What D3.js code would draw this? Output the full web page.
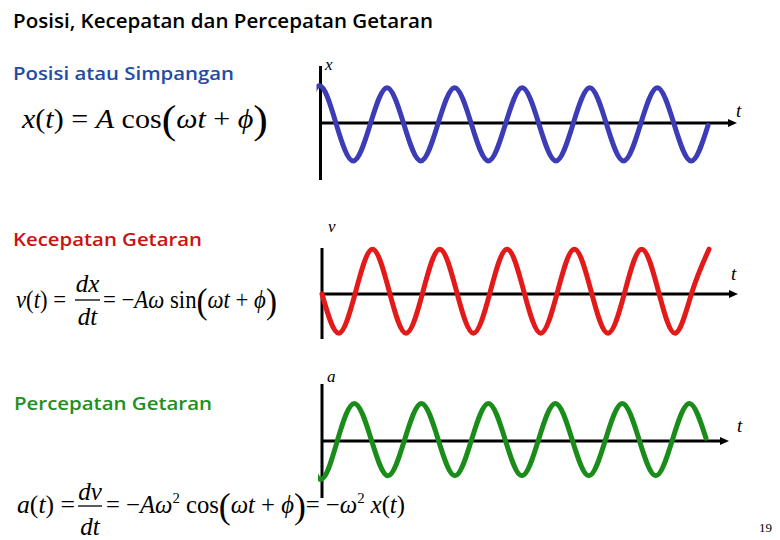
<!DOCTYPE html>
<html><head><meta charset="utf-8">
<script src="https://cdn.jsdelivr.net/npm/d3@7"></script>
<style>body{margin:0;background:#fff}svg{display:block}</style>
</head><body>
<svg id="c" width="780" height="540"></svg>
<script>
// ---------- data ----------
const titleText = "Posisi, Kecepatan dan Percepatan Getaran";
const panelLabels = ["Posisi atau Simpangan", "Kecepatan Getaran", "Percepatan Getaran"];
const axisLabels = ["x", "v", "a"];
const timeLabel = "t";
const pageNumber = "19";
// time in periods (knots at quarter periods; first knot lies left of the vertical axis)
const tKnots = [-0.25, 0, 0.25, 0.5, 0.75, 1, 1.25, 1.5, 1.75, 2, 2.25, 2.5, 2.75,
                3, 3.25, 3.5, 3.75, 4, 4.25, 4.5, 4.75, 5, 5.25, 5.5, 5.75];
// displacement x(t)  (crossings / peaks / troughs)
const posVals = [-0.04, 0.93, -0.04, -0.95, -0.04, 0.88, -0.04, -0.95, -0.04, 0.88, -0.04, -0.95, -0.04,
                 0.88, -0.04, -0.95, -0.04, 0.88, -0.04, -0.95, -0.04, 0.88, -0.04, -0.95, -0.06];
// velocity v(t)  (starts at t = 0)
const velVals = [null, 0, -0.98, 0.06, 1.12, 0.06, -0.98, 0.06, 1.12, 0.06, -0.98, 0.06, 1.12,
                 0.06, -0.98, 0.06, 1.12, 0.06, -0.98, 0.06, 1.12, 0.06, -0.98, 0.06, 1.12];
// acceleration a(t)
const accVals = [0.04, -0.96, 0.04, 0.94, 0.04, -0.87, 0.04, 0.94, 0.04, -0.87, 0.04, 0.94, 0.04,
                 -0.87, 0.04, 0.94, 0.04, -0.87, 0.04, 0.94, 0.04, -0.87, 0.04, 0.94, 0.07];

// ---------- layout ----------
const svg = d3.select("#c");
const SERIF = "'Liberation Serif','Times New Roman','DejaVu Serif',serif";
const SANS = "'Open Sans','Noto Sans',Lato,sans-serif";

const panels = [
  { vals: posVals, color: "#3c3cb6", x0: 319.5, x1: 708, axisX: 320.5, axisY: 123, vTop: 66, vBot: 180, tip: 737,
    label: { x: 13, y: 80, w: 221, color: "#1e4ca8" }, al: { x: 325, y: 70 }, tl: { x: 736, y: 117 } },
  { vals: velVals, color: "#e31a1a", x0: 322, x1: 709, axisX: 322, axisY: 294, vTop: 248, vBot: 339, tip: 738,
    label: { x: 13, y: 246, w: 189, color: "#cc1111" }, al: { x: 328, y: 232 }, tl: { x: 731, y: 280 } },
  { vals: accVals, color: "#1a8c1a", x0: 321, x1: 706, axisX: 322, axisY: 441, vTop: 384, vBot: 498, tip: 729,
    label: { x: 14, y: 410, w: 198, color: "#1f8f1f" }, al: { x: 327, y: 382 }, tl: { x: 737, y: 432 } }
];

// title
svg.append("text").attr("x", 13).attr("y", 28)
  .attr("font-family", SANS).attr("font-size", 19).attr("font-weight", 600)
  .attr("textLength", 420).attr("lengthAdjust", "spacingAndGlyphs")
  .attr("fill", "#000").text(titleText);

const defs = svg.append("defs");

panels.forEach((p, i) => {
  const g = svg.append("g");
  const x = d3.scaleLinear().domain([0, 5.75]).range([p.x0, p.x1]);
  const y = d3.scaleLinear().domain([-1, 1]).range([p.axisY + 40, p.axisY - 40]);

  // panel label
  g.append("text").attr("x", p.label.x).attr("y", p.label.y)
    .attr("font-family", SANS).attr("font-size", 18.5).attr("font-weight", 600)
    .attr("textLength", p.label.w).attr("lengthAdjust", "spacingAndGlyphs")
    .attr("fill", p.label.color).text(panelLabels[i]);

  // axes
  g.append("line").attr("x1", p.axisX).attr("x2", p.axisX).attr("y1", p.vTop).attr("y2", p.vBot)
    .attr("stroke", "#000").attr("stroke-width", 3);
  g.append("line").attr("x1", p.axisX).attr("x2", p.tip - 6).attr("y1", y(0)).attr("y2", y(0))
    .attr("stroke", "#000").attr("stroke-width", 3);
  g.append("path")
    .attr("d", `M${p.tip},${y(0)} L${p.tip - 9},${y(0) - 4} L${p.tip - 9},${y(0) + 4} Z`)
    .attr("fill", "#000");

  // clip: the wave is shown from the vertical axis on
  const cid = "clip" + i;
  defs.append("clipPath").attr("id", cid).append("rect")
    .attr("x", p.axisX - 4).attr("y", 0).attr("width", 780).attr("height", 540);

  // curve
  const pts = tKnots.map((t, k) => [t, p.vals[k]]);
  const line = d3.line().defined(d => d[1] !== null)
    .x(d => x(d[0])).y(d => y(d[1])).curve(d3.curveNatural);
  g.append("path").attr("d", line(pts.filter(d => d[1] !== null))).attr("fill", "none")
    .attr("clip-path", `url(#${cid})`)
    .attr("stroke", p.color).attr("stroke-width", 5).attr("stroke-linecap", "round");

  // axis labels
  g.append("text").attr("x", p.al.x).attr("y", p.al.y)
    .attr("font-family", SERIF).attr("font-style", "italic").attr("font-size", 17)
    .text(axisLabels[i]);
  g.append("text").attr("x", p.tl.x).attr("y", p.tl.y)
    .attr("font-family", SERIF).attr("font-style", "italic").attr("font-size", 19)
    .text(timeLabel);
});

// ---------- equations ----------
function mathText(x, y, width, size, parts) {
  const t = svg.append("text").attr("font-family", SERIF).attr("font-size", size)
    .attr("x", 0).attr("y", 0).attr("fill", "#000");
  let shift = 0;
  parts.forEach(([s, f]) => {
    f = f || "";
    const ts = t.append("tspan").text(s);
    let dy = 0;
    if (f.includes("i")) ts.attr("font-style", "italic");
    if (f.includes("B")) { ts.attr("font-size", size * 1.45); dy = size * 0.2; }
    if (f.includes("S")) { ts.attr("font-size", size * 0.6); dy = -size * 0.42; }
    ts.attr("dy", dy - shift);
    shift = dy;
  });
  const w = t.node().getComputedTextLength();
  t.attr("transform", `translate(${x},${y}) scale(${width / w},1)`);
}
function frac(cx, lineY, w, size, num, den, numBase, denBase) {
  svg.append("text").attr("x", cx).attr("y", numBase).attr("text-anchor", "middle")
    .attr("font-family", SERIF).attr("font-style", "italic").attr("font-size", size).text(num);
  svg.append("text").attr("x", cx).attr("y", denBase).attr("text-anchor", "middle")
    .attr("font-family", SERIF).attr("font-style", "italic").attr("font-size", size).text(den);
  svg.append("line").attr("x1", cx - w / 2).attr("x2", cx + w / 2).attr("y1", lineY).attr("y2", lineY)
    .attr("stroke", "#000").attr("stroke-width", 1.3);
}

// x(t) = A cos(ωt + ϕ)
mathText(22, 128, 246, 27, [
  ["x", "i"], ["("], ["t", "i"], [")"], [" = "], ["A", "i"], [" cos"], ["(", "B"],
  ["ωt", "i"], [" + "], ["ϕ", "i"], [")", "B"]
]);

// v(t) = dx/dt = −Aω sin(ωt + ϕ)
mathText(16, 308, 50, 25, [["v", "i"], ["("], ["t", "i"], [")"], [" ="]]);
frac(87.5, 300, 25, 25, "dx", "dt", 292, 325);
mathText(103, 308, 174, 25, [
  ["= −"], ["A", "i"], ["ω", "i"], [" sin"], ["(", "B"], ["ωt", "i"], [" + "], ["ϕ", "i"], [")", "B"]
]);

// a(t) = dv/dt = −Aω² cos(ωt + ϕ) = −ω² x(t)
mathText(17, 513, 58, 25, [["a", "i"], ["("], ["t", "i"], [")"], [" ="]]);
frac(90, 506, 24, 25, "dv", "dt", 500, 535);
mathText(106, 513, 299, 25, [
  ["= −"], ["A", "i"], ["ω", "i"], ["2", "S"], ["  cos"], ["(", "B"], ["ωt", "i"], [" + "], ["ϕ", "i"], [")", "B"],
  ["= −"], ["ω", "i"], ["2", "S"], [" x", "i"], ["("], ["t", "i"], [")"]
]);

// page number
svg.append("text").attr("x", 759).attr("y", 532).attr("font-family", SERIF).attr("font-size", 13)
  .text(pageNumber);
</script>
</body></html>
